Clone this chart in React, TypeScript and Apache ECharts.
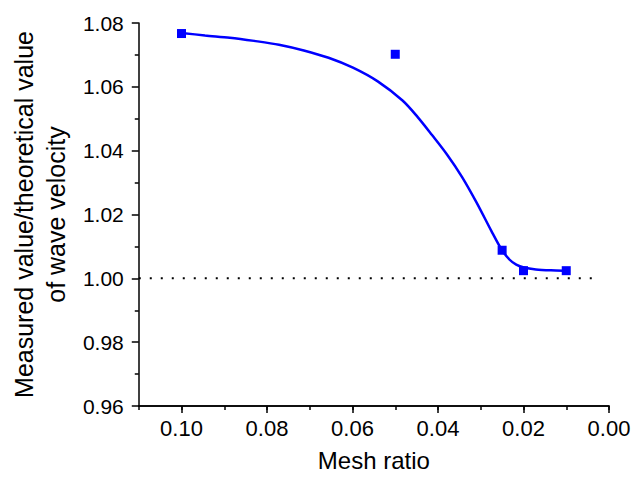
import React, { useEffect, useRef } from "react";
import * as echarts from "echarts";

// Measured points: mesh ratio vs measured/theoretical wave velocity
const meshRatio = [0.1, 0.05, 0.025, 0.02, 0.01];
const velocityRatio = [1.0767, 1.0702, 1.0088, 1.0024, 1.0024];

// Fitted trend curve (x, y pairs)
const fitX = [0.1, 0.0945, 0.0887, 0.083, 0.0772, 0.0714, 0.0656, 0.0599, 0.0541, 0.0483, 0.0448, 0.0414, 0.0379, 0.0344, 0.031, 0.0275, 0.0252, 0.0233, 0.0217, 0.0199, 0.0171, 0.0136, 0.0106];
const fitY = [1.0769, 1.0761, 1.0754, 1.0744, 1.0732, 1.0714, 1.0691, 1.066, 1.0617, 1.0557, 1.0506, 1.0449, 1.0388, 1.0318, 1.0238, 1.0148, 1.0092, 1.0059, 1.0043, 1.0034, 1.0028, 1.0025, 1.0024];

// Reference level (ratio = 1)
const refX = [0.11, 0.0033];
const refY = [1.0, 1.0];

// Axis ticks
const xTicks = [0.1, 0.08, 0.06, 0.04, 0.02, 0.0];
const yTicks = [0.96, 0.98, 1.0, 1.02, 1.04, 1.06, 1.08];

const FONT = "Liberation Sans, Arial, Helvetica, sans-serif";

export default function App() {
  const ref = useRef<HTMLDivElement>(null);

  useEffect(() => {
    if (!ref.current) return;
    document.body.style.margin = "0";
    const chart = echarts.init(ref.current, undefined, { renderer: "svg" });

    const xBase = {
      type: "value" as const,
      min: 0,
      max: 0.11,
      inverse: true,
      position: "bottom" as const,
      splitLine: { show: false },
      axisLine: { show: true, onZero: false, lineStyle: { color: "#000", width: 1.5 } },
    };

    chart.setOption({
      animation: false,
      backgroundColor: "#fff",
      grid: { left: 133, right: 35, top: 23, bottom: 74, containLabel: false },
      xAxis: [
        {
          ...xBase,
          interval: 0.02,
          name: "Mesh ratio",
          nameLocation: "middle",
          nameGap: 42,
          nameTextStyle: { fontFamily: FONT, fontSize: 24, color: "#000" },
          axisTick: { show: true, inside: false, length: 7, customValues: xTicks, lineStyle: { color: "#000", width: 1.5 } },
          axisLabel: {
            show: true,
            customValues: xTicks,
            margin: 11,
            fontFamily: FONT,
            fontSize: 22,
            color: "#000",
            formatter: (v: number) => v.toFixed(2),
          },
        },
        {
          ...xBase,
          interval: 0.01,
          axisTick: { show: true, inside: false, length: 4, lineStyle: { color: "#000", width: 1.5 } },
          axisLabel: { show: false },
        },
      ],
      yAxis: {
        type: "value",
        min: 0.96,
        max: 1.08,
        interval: 0.02,
        name: "Measured value/theoretical value\nof wave velocity",
        nameLocation: "middle",
        nameGap: 55,
        nameTextStyle: { fontFamily: FONT, fontSize: 25, lineHeight: 32, color: "#000", align: "center" },
        splitLine: { show: false },
        axisLine: { show: true, onZero: false, lineStyle: { color: "#000", width: 1.5 } },
        axisTick: { show: true, inside: false, length: 7, customValues: yTicks, lineStyle: { color: "#000", width: 1.5 } },
        minorTick: { show: true, splitNumber: 2, length: 4, lineStyle: { color: "#000", width: 1.5 } },
        axisLabel: {
          customValues: yTicks,
          margin: 15,
          fontFamily: FONT,
          fontSize: 21,
          color: "#000",
          formatter: (v: number) => v.toFixed(2),
        },
      },
      series: [
        {
          type: "line",
          data: refX.map((x, i) => [x, refY[i]]),
          showSymbol: false,
          symbol: "none",
          lineStyle: { color: "#000", width: 2, type: [2, 9] },
          silent: true,
          z: 1,
        },
        {
          type: "line",
          data: fitX.map((x, i) => [x, fitY[i]]),
          smooth: 0.3,
          showSymbol: false,
          symbol: "none",
          lineStyle: { color: "#0000ff", width: 2.5 },
          z: 2,
        },
        {
          type: "scatter",
          data: meshRatio.map((x, i) => [x, velocityRatio[i]]),
          symbol: "rect",
          symbolSize: 9,
          itemStyle: { color: "#0000ff", opacity: 1 },
          z: 3,
        },
      ],
    });

    return () => chart.dispose();
  }, []);

  return <div ref={ref} style={{ width: 644, height: 480 }} />;
}
